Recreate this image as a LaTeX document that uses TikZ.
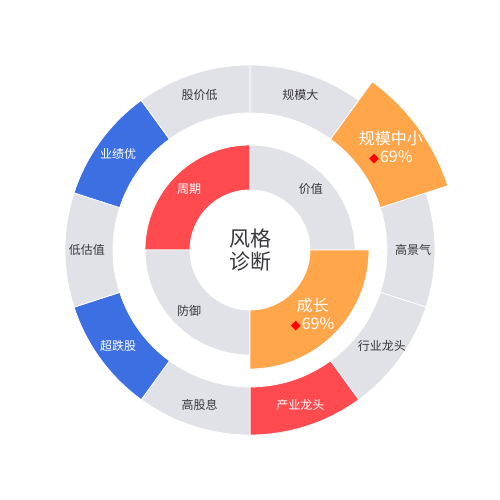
\documentclass[tikz,border=0pt]{standalone}
\usepackage{fontspec}
\setmainfont{Noto Sans CJK SC}
\newfontfamily\symfont{DejaVu Sans}

\definecolor{segred}{RGB}{255,75,80}
\definecolor{segblue}{RGB}{60,111,226}
\definecolor{segorange}{RGB}{255,165,74}
\definecolor{seggray}{RGB}{225,226,232}
\definecolor{txtgray}{RGB}{55,55,60}

% ring segment: colour, start angle, end angle, inner radius, outer radius
\newcommand{\ringseg}[5]{%
  \filldraw[fill=#1,draw=white,line width=0.8pt] (#2:#4pt) -- (#2:#5pt)
    arc[start angle=#2,end angle=#3,radius=#5pt] -- (#3:#4pt)
    arc[start angle=#3,end angle=#2,radius=#4pt] -- cycle;}
\newcommand{\hit}{{\symfont\fontsize{13}{13}\selectfont\textcolor{red}{◆}}\hspace{1pt}}

\begin{document}
\begin{tikzpicture}[
  lbl/.style={text=txtgray,font=\fontsize{12}{14}\selectfont},
  wlbl/.style={text=white,font=\fontsize{12}{14}\selectfont},
  biglbl/.style={text=white,align=center,font=\fontsize{16}{18}\selectfont}]
\useasboundingbox (-250pt,-250pt) rectangle (250pt,250pt);

% inner ring
\ringseg{segred}{90}{180}{60}{105}
\ringseg{seggray}{0}{90}{60}{105}
\ringseg{seggray}{180}{270}{60}{105}
\ringseg{segorange}{270}{360}{60}{119}

% outer ring
\foreach \a/\c in {90/seggray,18/seggray,-18/seggray,-54/segred,-90/seggray,
                   -126/segblue,-162/seggray,-198/segblue,-234/seggray}{
  \pgfmathsetmacro{\b}{\a-36}
  \ringseg{\c}{\a}{\b}{137}{185}
}
\ringseg{segorange}{54}{18}{137}{208}

\node[text=txtgray,align=center,font=\fontsize{21}{23}\selectfont] (center) at (0,0) {风格\\诊断};

\node[wlbl] (zhouqi) at (135:86pt) {周期};
\node[lbl] (jiazhi) at (45:86pt) {价值};
\node[lbl] (fangyu) at (225:86pt) {防御};
\node[biglbl] (chengzhang) at (-46:90pt) {成长\\\hit69\%};

\node[lbl] (gmd) at (72:163pt) {规模大};
\node[biglbl] (gmzx) at (36:174pt) {规模中小\\\hit69\%};
\node[lbl] (gjq) at (0:163pt) {高景气};
\node[lbl] (hylt) at (-36:163pt) {行业龙头};
\node[wlbl] (cylt) at (-72:163pt) {产业龙头};
\node[lbl] (ggx) at (-108:163pt) {高股息};
\node[wlbl] (cdg) at (-144:163pt) {超跌股};
\node[lbl] (dgz) at (180:163pt) {低估值};
\node[wlbl] (yjy) at (144:163pt) {业绩优};
\node[lbl] (gjd) at (108:163pt) {股价低};
\end{tikzpicture}
\end{document}
